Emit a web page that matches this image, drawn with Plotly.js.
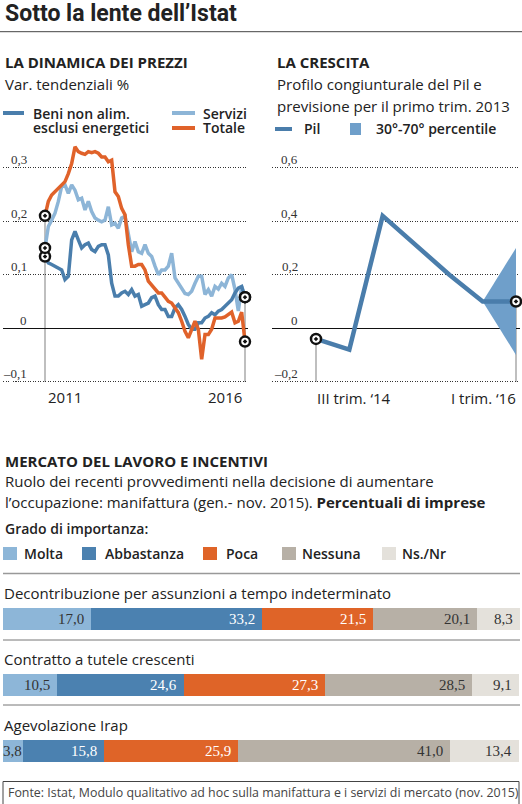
<!DOCTYPE html>
<html><head><meta charset="utf-8">
<script src="https://cdn.plot.ly/plotly-3.0.1.min.js"></script>
<style>html,body{margin:0;padding:0;background:#fff}#chart{width:522px;height:804px}</style>
</head><body><div id="chart"></div>
<script>
// ---------- DATA: La dinamica dei prezzi (monthly, 2011 -> 2016) ----------
const beni = [0.134,0.122,0.119,0.116,0.112,0.109,0.091,0.097,0.165,0.181,0.165,0.150,0.156,0.159,0.147,0.143,0.153,0.156,0.156,0.137,
  0.084,0.060,0.060,0.066,0.069,0.063,0.072,0.060,0.063,0.041,0.044,0.047,0.057,0.060,0.044,0.035,0.035,0.022,0.022,0.038,
  0.044,0.035,0.022,0.007,-0.002,-0.002,0.010,0.010,0.019,0.022,0.029,0.025,0.032,0.035,0.041,0.047,0.053,0.066,0.075,0.078,0.058];
const servizi = [0.150,0.190,0.202,0.215,0.237,0.265,0.268,0.252,0.268,0.258,0.240,0.243,0.221,0.237,0.218,0.206,0.202,0.199,0.202,0.227,
  0.193,0.196,0.187,0.206,0.209,0.171,0.143,0.162,0.143,0.140,0.156,0.140,0.134,0.116,0.100,0.109,0.109,0.116,0.140,0.094,
  0.084,0.072,0.065,0.063,0.069,0.084,0.097,0.097,0.063,0.072,0.060,0.078,0.073,0.084,0.078,0.094,0.100,0.072,0.032,0.078,0.058];
const totale = [0.210,0.237,0.249,0.255,0.260,0.266,0.274,0.289,0.308,0.339,0.330,0.327,0.325,0.330,0.328,0.330,0.327,0.320,0.320,0.311,
  0.314,0.255,0.246,0.224,0.212,0.156,0.116,0.116,0.119,0.119,0.109,0.088,0.081,0.072,0.066,0.066,0.057,0.050,0.047,0.038,
  0.029,0.013,-0.006,-0.018,-0.002,0.013,-0.002,-0.058,-0.012,-0.012,-0.002,0.019,0.019,0.019,0.021,0.025,0.030,0.010,0.013,0.030,-0.025];
const priceTickVals = [-0.1, 0, 0.1, 0.2, 0.3];
const priceTickText = ['\u20130,1', '0', '0,1', '0,2', '0,3'];
const priceYears = ['2011', '2016'];

// ---------- DATA: La crescita ----------
const quarters = ['III trim. \u201814', 'IV trim. \u201814', 'I trim. \u201815', 'II trim. \u201815', 'III trim. \u201815', 'IV trim. \u201815', 'I trim. \u201816'];
const pil = [-0.04, -0.08, 0.42, 0.31, 0.20, 0.10, 0.10];
const fanQuarters = ['IV trim. \u201815', 'I trim. \u201816'];
const fanUpper = [0.10, 0.30];
const fanLower = [0.10, -0.10];
const pilTickVals = [-0.2, 0, 0.2, 0.4, 0.6];
const pilTickText = ['\u20130,2', '0', '0,2', '0,4', '0,6'];

// ---------- DATA: Mercato del lavoro e incentivi ----------
const measures = ['Decontribuzione per assunzioni a tempo indeterminato', 'Contratto a tutele crescenti', 'Agevolazione Irap'];
const grades = ['Molta', 'Abbastanza', 'Poca', 'Nessuna', 'Ns./Nr'];
const molta = [17.0, 10.5, 3.8];
const abbastanza = [33.2, 24.6, 15.8];
const poca = [21.5, 27.3, 25.9];
const nessuna = [20.1, 28.5, 41.0];
const nsnr = [8.3, 9.1, 13.4];

// ---------- STYLE ----------
const W = 522, H = 804;
const px = v => v / W;
const py = v => 1 - v / H;
const C = { beni: '#4a7eac', servizi: '#8db5d7', totale: '#e0622a', pil: '#4a7dab', fan: '#6f9fca',
  molta: '#8db6d8', abb: '#4b81b0', poca: '#df6428', nes: '#b7b0a6', nsnr: '#e4e1db' };
const gradeColors = [C.molta, C.abb, C.poca, C.nes, C.nsnr];
const gradeText = ['#333', '#fff', '#fff', '#333', '#333'];
const SANS = 'Open Sans, Noto Sans, sans-serif';
const SERIF = 'Liberation Serif, DejaVu Serif, serif';
const TITLEF = 'Liberation Sans Narrow, Roboto, sans-serif';

const idx = beni.map((_, i) => i);
const last = idx.length - 1;

const traces = [];
// left chart lines
[[servizi, C.servizi], [beni, C.beni], [totale, C.totale]].forEach(([s, c]) => {
  traces.push({ x: idx, y: s, xaxis: 'x', yaxis: 'y', mode: 'lines', line: { color: c, width: 3.5 }, hoverinfo: 'skip' });
});
const endMarker = { symbol: 'circle-dot', size: 10, color: '#fff', line: { color: '#111', width: 2.5 } };
traces.push({ x: [0, 0, 0, last, last, last], y: [beni[0], servizi[0], totale[0], beni[last], servizi[last], totale[last]],
  xaxis: 'x', yaxis: 'y', mode: 'markers', marker: endMarker, cliponaxis: false, hoverinfo: 'skip' });

// right chart
traces.push({ x: fanQuarters, y: fanLower, xaxis: 'x2', yaxis: 'y2', mode: 'lines', line: { width: 0, color: C.fan }, hoverinfo: 'skip' });
traces.push({ x: fanQuarters, y: fanUpper, xaxis: 'x2', yaxis: 'y2', mode: 'lines', line: { width: 0, color: C.fan }, fill: 'tonexty', fillcolor: C.fan, hoverinfo: 'skip' });
traces.push({ x: quarters, y: pil, xaxis: 'x2', yaxis: 'y2', mode: 'lines', line: { color: C.pil, width: 4.5 }, hoverinfo: 'skip' });
traces.push({ x: [quarters[0], quarters[quarters.length - 1]], y: [pil[0], pil[pil.length - 1]], xaxis: 'x2', yaxis: 'y2',
  mode: 'markers', marker: endMarker, cliponaxis: false, hoverinfo: 'skip' });

// bars
const gradeSeries = [molta, abbastanza, poca, nessuna, nsnr];
gradeSeries.forEach((s, j) => {
  traces.push({ type: 'bar', orientation: 'h', x: s, y: measures, xaxis: 'x3', yaxis: 'y3', width: 0.32,
    marker: { color: gradeColors[j], line: { width: 0 } }, name: grades[j], hoverinfo: 'skip' });
});
const rowTotals = measures.map((_, i) => gradeSeries.reduce((a, s) => a + s[i], 0));
const barMax = Math.max(...rowTotals);

const annotations = [];
const shapes = [];
const A = (text, x, y, opts = {}) => annotations.push(Object.assign({ text, x: px(x), y: py(y), xref: 'paper', yref: 'paper',
  xanchor: 'left', yanchor: 'middle', showarrow: false, font: { family: SANS, size: 15, color: '#222' } }, opts));

// headers
A('<b>Sotto la lente dell\u2019Istat</b>', 3, 14, { font: { family: TITLEF, size: 23, color: '#222' } });
shapes.push({ type: 'line', xref: 'paper', yref: 'paper', x0: 0, x1: 1, y0: py(31.7), y1: py(31.7), line: { color: '#444', width: 1 } });
A('<b>LA DINAMICA DEI PREZZI</b>', 3, 62);
A('Var. tendenziali %', 3, 84);
A('<b>LA CRESCITA</b>', 275, 62);
A('Profilo congiunturale del Pil e', 275, 84);
A('previsione per il primo trim. 2013', 275, 106);
// left legend
const legLine = (x0, x1, y, c, w) => shapes.push({ type: 'line', xref: 'paper', yref: 'paper', x0: px(x0), x1: px(x1), y0: py(y), y1: py(y), line: { color: c, width: w } });
legLine(3, 24, 113, C.beni, 4);
legLine(172, 195, 113, C.servizi, 4);
legLine(172, 195, 128, C.totale, 4);
legLine(275, 292, 129, C.pil, 4);
shapes.push({ type: 'rect', xref: 'paper', yref: 'paper', x0: px(350), x1: px(361), y0: py(135), y1: py(123), fillcolor: C.fan, line: { width: 0 } });
const legFont = { family: SANS, size: 14, color: '#222', weight: 600 };
A('Beni non alim.', 31, 113, { font: legFont });
A('esclusi energetici', 31, 128, { font: legFont });
A('Servizi', 201, 113, { font: legFont });
A('Totale', 201, 128, { font: legFont });
A('Pil', 302, 129, { font: legFont });
A('30\u00b0-70\u00b0 percentile', 374, 129, { font: legFont });

// y tick labels (above gridlines)
const tickFont = { family: SERIF, size: 13, color: '#333' };
priceTickVals.forEach((v, i) => annotations.push({ text: priceTickText[i], x: px(29), xref: 'paper', y: v, yref: 'y', yshift: 8,
  xanchor: 'right', yanchor: 'middle', showarrow: false, font: tickFont }));
pilTickVals.forEach((v, i) => annotations.push({ text: pilTickText[i], x: px(300), xref: 'paper', y: v, yref: 'y2', yshift: 8,
  xanchor: 'right', yanchor: 'middle', showarrow: false, font: tickFont }));
// x labels
const xFont = { family: SANS, size: 15, color: '#222' };
annotations.push({ text: priceYears[0], x: 0, xref: 'x', y: py(397), yref: 'paper', xanchor: 'left', xshift: 1, yanchor: 'middle', showarrow: false, font: xFont });
annotations.push({ text: priceYears[1], x: last, xref: 'x', y: py(397), yref: 'paper', xanchor: 'right', xshift: -1, yanchor: 'middle', showarrow: false, font: xFont });
annotations.push({ text: quarters[0], x: quarters[0], xref: 'x2', y: py(398), yref: 'paper', xanchor: 'left', xshift: -1, yanchor: 'middle', showarrow: false, font: xFont });
annotations.push({ text: quarters[quarters.length - 1], x: quarters[quarters.length - 1], xref: 'x2', y: py(398), yref: 'paper', xanchor: 'right', xshift: 2, yanchor: 'middle', showarrow: false, font: xFont });

// vertical guide lines at series ends
const vline = (xref, yref, x, ybot, ytop) => shapes.push({ type: 'line', xref, yref, x0: x, x1: x, y0: ybot, y1: ytop, layer: 'below', line: { color: '#aaa', width: 1.5 } });
vline('x', 'y', 0, -0.1, Math.max(beni[0], servizi[0], totale[0]));
vline('x', 'y', last, -0.1, Math.max(beni[last], servizi[last], totale[last]));
vline('x2', 'y2', 0, -0.2, pil[0]);
vline('x2', 'y2', quarters.length - 1, -0.2, pil[pil.length - 1]);

// bars section headers
A('<b>MERCATO DEL LAVORO E INCENTIVI</b>', 3, 461);
A('Ruolo dei recenti provvedimenti nella decisione di aumentare', 3, 481);
A('l\u2019occupazione: manifattura (gen.- nov. 2015). <b>Percentuali di imprese</b>', 3, 502);
A('Grado di importanza:', 3, 528, { font: legFont });
const sqX = [3, 82, 203, 282, 382];
const txX = [22, 103, 224, 300, 400];
grades.forEach((g, j) => {
  shapes.push({ type: 'rect', xref: 'paper', yref: 'paper', x0: px(sqX[j]), x1: px(sqX[j] + 14), y0: py(560), y1: py(547), fillcolor: gradeColors[j], line: { width: 0 } });
  A(g, txX[j], 553, { font: legFont });
});
shapes.push({ type: 'line', xref: 'paper', yref: 'paper', x0: px(3), x1: px(520), y0: py(573.5), y1: py(573.5), line: { color: '#999', width: 1.5 } });
[640, 705].forEach(y => shapes.push({ type: 'line', xref: 'paper', yref: 'paper', x0: px(3), x1: px(520), y0: py(y), y1: py(y), line: { color: '#777', width: 1 } }));

// row labels and value labels
measures.forEach((m, i) => {
  annotations.push({ text: m, x: px(2), xref: 'paper', y: m, yref: 'y3', yshift: 26, xanchor: 'left', yanchor: 'middle', showarrow: false,
    font: { family: SANS, size: 15, color: '#222' } });
  let cum = 0;
  gradeSeries.forEach((s, j) => {
    const start = cum;
    cum += s[i];
    const narrow = s[i] < 5 && j === 0;
    annotations.push({ text: s[i].toFixed(1).replace('.', ','), x: narrow ? start : cum, xref: 'x3', y: m, yref: 'y3',
      xanchor: narrow ? 'left' : 'right', xshift: narrow ? -2 : -5,
      yanchor: 'middle', showarrow: false, font: { family: SERIF, size: 15, color: gradeText[j] } });
  });
});

// footer
shapes.push({ type: 'rect', xref: 'paper', yref: 'paper', x0: px(3), x1: px(519), y0: py(781.5), y1: py(812), line: { color: '#444', width: 1 }, fillcolor: 'rgba(0,0,0,0)' });
A('Fonte: Istat, Modulo qualitativo ad hoc sulla manifattura e i servizi di mercato (nov. 2015)', 6, 792, { font: { family: SANS, size: 12.4, color: '#444' } });

const gridStyle = { showgrid: true, gridcolor: '#333', gridwidth: 1, griddash: '1px,1.5px', zeroline: true, zerolinecolor: '#111', zerolinewidth: 1.3,
  showticklabels: false, ticks: '', showline: false, fixedrange: true };
const plainX = { showgrid: false, zeroline: false, showticklabels: false, ticks: '', showline: false, fixedrange: true };

const layout = {
  width: W, height: H, margin: { l: 0, r: 0, t: 0, b: 0 }, paper_bgcolor: '#fff', plot_bgcolor: 'rgba(0,0,0,0)',
  showlegend: false, barmode: 'stack', bargap: 0,
  xaxis: Object.assign({}, plainX, { domain: [px(3), px(248)], range: [-12.6, 60.9], anchor: 'y' }),
  yaxis: Object.assign({}, gridStyle, { domain: [py(392), py(140)], range: [-0.1193, 0.3518], tickvals: priceTickVals, anchor: 'x' }),
  xaxis2: Object.assign({}, plainX, { type: 'category', categoryorder: 'array', categoryarray: quarters, domain: [px(272), px(520)], range: [-1.32, 6.12], anchor: 'y2' }),
  yaxis2: Object.assign({}, gridStyle, { domain: [py(392), py(140)], range: [-0.2385, 0.7036], tickvals: pilTickVals, anchor: 'x2' }),
  xaxis3: Object.assign({}, plainX, { domain: [px(3), px(520)], range: [0, barMax + 0.001], anchor: 'y3' }),
  yaxis3: Object.assign({}, plainX, { type: 'category', categoryorder: 'array', categoryarray: measures, domain: [py(770), py(600)], range: [2.288, -0.288], anchor: 'x3' }),
  annotations, shapes
};
Plotly.newPlot('chart', traces, layout, { staticPlot: true, displayModeBar: false });
</script></body></html>
